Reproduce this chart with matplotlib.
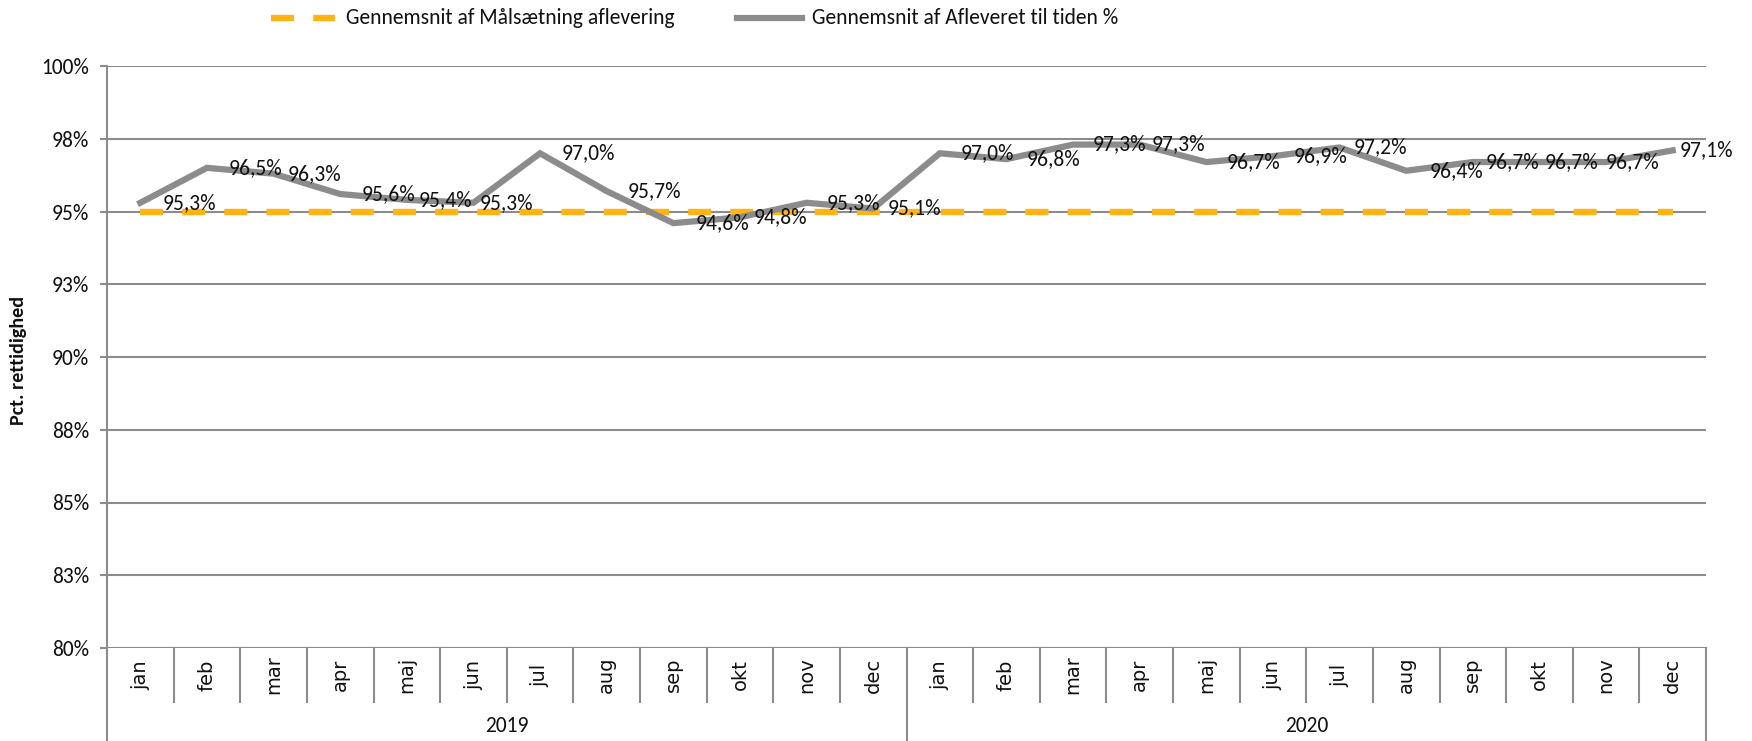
import matplotlib
matplotlib.use("Agg")
import matplotlib.pyplot as plt
import matplotlib.transforms as mtransforms
from matplotlib import font_manager

months = ["jan", "feb", "mar", "apr", "maj", "jun", "jul", "aug", "sep", "okt", "nov", "dec"]
years = ["2019", "2020"]
actual = [95.3, 96.5, 96.3, 95.6, 95.4, 95.3, 97.0, 95.7, 94.6, 94.8, 95.3, 95.1,
          97.0, 96.8, 97.3, 97.3, 96.7, 96.9, 97.2, 96.4, 96.7, 96.7, 96.7, 97.1]
target = [95.0] * 24
yticks = [80, 82.5, 85, 87.5, 90, 92.5, 95, 97.5, 100]
ytick_labels = ["80%", "83%", "85%", "88%", "90%", "93%", "95%", "98%", "100%"]
legend_labels = ["Gennemsnit af Målsætning aflevering", "Gennemsnit af Afleveret til tiden %"]
ylabel = "Pct. rettidighed"
# horizontal nudges (pixels) of the data labels, as placed in the original
label_dx = [22, 22, 14, 21, 12, 6, 22, 21, 22, 14, 20, 14,
            21, 20, 20, 12, 20, 21, 14, 23, 13, 5, 0, 7]

avail = {f.name for f in font_manager.fontManager.ttflist}
narrow = "DejaVu Sans"
for cand in ["Carlito", "Liberation Sans Narrow", "Roboto Condensed", "Open Sans Condensed", "Lato"]:
    if cand in avail:
        narrow = cand
        break

GRAY = "#8c8c8c"
ORANGE = "#FFB414"
TXT = "#111111"

fig = plt.figure(figsize=(17.52, 7.41), dpi=100)
ax = fig.add_axes([107/1752, 1-648/741, (1706-107)/1752, (648-66)/741])

n = len(actual)
x = list(range(n))
ax.plot(x, target, color=ORANGE, lw=4.6, dashes=(3.6, 3.0), zorder=3, solid_capstyle="butt")
ax.plot(x, actual, color=GRAY, lw=4.5, zorder=4, solid_joinstyle="miter")

for xi, v, dx in zip(x, actual, label_dx):
    ax.annotate(f"{v:.1f}%".replace(".", ","), (xi, v), xytext=(dx, 0), textcoords="offset pixels",
                ha="left", va="center", fontsize=15.5, family=narrow, color=TXT, zorder=5)

ax.set_xlim(-0.5, n - 0.5)
ax.set_ylim(80, 100)
ax.set_yticks(yticks)
ax.set_yticklabels(ytick_labels, fontsize=15.5, family=narrow, color=TXT)
ax.tick_params(axis="y", length=5, width=1.5, color=GRAY, pad=8)
ax.set_xticks([])
ax.grid(axis="y", color=GRAY, lw=1.5, zorder=1)
for s in ["top", "right", "bottom"]:
    ax.spines[s].set_visible(False)
ax.spines["left"].set_color(GRAY)
ax.spines["left"].set_linewidth(1.5)
ax.spines["left"].set_bounds(80, 100)

H = 582.0
trans = mtransforms.blended_transform_factory(ax.transData, ax.transAxes)
m_bot = -54/H
y_bot = -93/H
for i in range(n + 1):
    b = i - 0.5
    lo = y_bot if i % 12 == 0 else m_bot
    ax.plot([b, b], [0, lo], transform=trans, color=GRAY, lw=1.5, clip_on=False)
for i in range(n):
    ax.text(i, -27/H, months[i % 12], transform=trans, rotation=90, ha="center", va="center",
            fontsize=14, family="DejaVu Sans", color=TXT)
for j, yr in enumerate(years):
    ax.text(j * 12 + 5.5, -78/H, yr, transform=trans, ha="center", va="center",
            fontsize=15.5, family=narrow, color=TXT)

fig.text(19/1752, 1-360/741, ylabel, rotation=90, ha="center", va="center",
         fontsize=14.5, fontweight="bold", family=narrow, color=TXT)

ly = 1 - 18/741
fig.add_artist(plt.Line2D([271/1752, 335/1752], [ly, ly], color=ORANGE, lw=4.6, dashes=(3.6, 3.0)))
fig.text(346/1752, ly, legend_labels[0], ha="left", va="center", fontsize=15.5, family=narrow, color=TXT)
fig.add_artist(plt.Line2D([737/1752, 802/1752], [ly, ly], color=GRAY, lw=4.5))
fig.text(812/1752, ly, legend_labels[1], ha="left", va="center", fontsize=15.5, family=narrow, color=TXT)

fig.savefig("out.png", dpi=100)
